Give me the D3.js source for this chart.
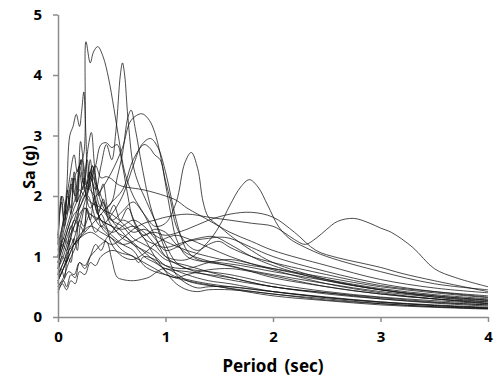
<!DOCTYPE html>
<html>
<head>
    <title>Response spectra</title>
    <script src="https://d3js.org/d3.v7.min.js"></script>
    <style>
        body { margin: 0; background: #fff; }
        .axis path, .axis line { stroke: #8c8c8c; stroke-width: 1.5; }
        .axis text { font-family: "Noto Sans", sans-serif; font-weight: bold; font-size: 15px; fill: #000; }
        .title { font-family: "Noto Sans", sans-serif; font-weight: bold; font-size: 17px; }
        .record { fill: none; stroke: #111; stroke-width: 0.75; }
    </style>
</head>
<body>
    <div id="chart"></div>

    <script>
        // 各記錄: [週期(sec), Sa(g)]
        const record01 = [[0,1.0],[0.05,1.5],[0.1,1.9],[0.15,2.3],[0.2,2.5],[0.24,2.7],[0.26,4.55],[0.3,4.2],[0.33,4.38],[0.37,4.47],[0.42,4.3],[0.47,3.95],[0.52,3.45],[0.57,2.9],[0.62,2.4],[0.7,2.0],[0.8,1.7],[0.9,1.35],[1.0,1.0],[1.2,0.8],[1.5,0.65],[2.0,0.5],[2.5,0.38],[3.0,0.3],[3.5,0.24],[4.0,0.2]];
        const record02 = [[0,1.2],[0.05,1.6],[0.08,2.1],[0.11,3.0],[0.14,3.15],[0.17,3.35],[0.2,3.15],[0.22,3.4],[0.24,3.72],[0.26,3.0],[0.28,2.3],[0.32,2.5],[0.36,2.2],[0.4,1.9],[0.5,1.6],[0.6,1.5],[0.7,1.3],[0.8,1.2],[0.9,1.1],[1.0,0.95],[1.2,0.85],[1.5,0.7],[2.0,0.5],[2.5,0.4],[3.0,0.32],[3.5,0.25],[4.0,0.2]];
        const record03 = [[0,0.8],[0.05,1.1],[0.1,1.4],[0.15,1.6],[0.2,1.9],[0.25,2.1],[0.3,2.3],[0.35,2.1],[0.4,2.5],[0.45,2.85],[0.5,2.6],[0.54,3.1],[0.58,4.0],[0.6,4.2],[0.62,4.0],[0.65,3.3],[0.7,2.5],[0.75,2.2],[0.8,2.0],[0.9,1.6],[1.0,1.2],[1.1,0.9],[1.2,0.8],[1.4,0.75],[1.6,0.7],[2.0,0.55],[2.5,0.42],[3.0,0.33],[3.5,0.27],[4.0,0.22]];
        const record04 = [[0,0.7],[0.05,0.9],[0.1,1.2],[0.15,1.5],[0.2,1.8],[0.25,2.0],[0.3,2.4],[0.35,2.2],[0.4,2.0],[0.45,1.8],[0.5,1.9],[0.55,2.3],[0.6,2.7],[0.65,3.3],[0.68,3.42],[0.72,3.1],[0.78,2.5],[0.85,1.9],[0.9,1.6],[1.0,1.1],[1.1,0.7],[1.2,0.55],[1.3,0.48],[1.4,0.5],[1.6,0.5],[2.0,0.42],[2.5,0.33],[3.0,0.25],[3.5,0.19],[4.0,0.15]];
        const record05 = [[0,0.9],[0.05,1.2],[0.1,1.5],[0.15,1.8],[0.2,2.0],[0.25,2.2],[0.3,2.1],[0.35,2.0],[0.4,2.1],[0.5,2.4],[0.6,2.8],[0.68,3.25],[0.78,3.36],[0.85,3.25],[0.9,3.05],[0.95,2.7],[1.0,2.2],[1.05,1.7],[1.1,1.3],[1.2,1.0],[1.4,0.9],[1.6,0.85],[1.8,0.75],[2.0,0.65],[2.5,0.5],[3.0,0.38],[3.5,0.3],[4.0,0.25]];
        const record06 = [[0,0.6],[0.05,0.8],[0.1,1.0],[0.15,1.2],[0.2,1.3],[0.25,1.5],[0.3,1.7],[0.35,1.6],[0.4,1.5],[0.5,1.7],[0.6,2.0],[0.7,2.5],[0.78,2.85],[0.86,2.95],[0.93,2.8],[1.0,2.4],[1.05,2.0],[1.1,1.6],[1.15,1.3],[1.2,1.1],[1.3,0.95],[1.5,0.9],[1.7,0.85],[2.0,0.75],[2.5,0.6],[3.0,0.45],[3.5,0.35],[4.0,0.28]];
        const record07 = [[0,0.5],[0.05,0.65],[0.1,0.9],[0.15,1.1],[0.2,1.3],[0.25,1.4],[0.3,1.5],[0.4,1.7],[0.5,1.9],[0.6,2.1],[0.7,2.6],[0.8,2.85],[0.85,2.8],[0.9,2.68],[0.95,2.6],[1.0,2.25],[1.05,1.9],[1.1,1.5],[1.2,1.2],[1.3,1.1],[1.4,1.2],[1.5,1.25],[1.6,1.15],[1.8,1.0],[2.0,0.9],[2.5,0.7],[3.0,0.52],[3.5,0.42],[4.0,0.35]];
        const record08 = [[0,0.9],[0.05,1.2],[0.1,1.5],[0.15,1.7],[0.2,1.8],[0.25,2.0],[0.3,1.9],[0.4,1.8],[0.5,1.6],[0.6,1.75],[0.7,1.9],[0.8,1.7],[0.9,1.5],[1.0,1.55],[1.1,1.9],[1.18,2.55],[1.24,2.72],[1.3,2.45],[1.35,1.9],[1.4,1.65],[1.5,1.5],[1.6,1.35],[1.8,1.1],[2.0,0.9],[2.5,0.62],[3.0,0.45],[3.5,0.35],[4.0,0.28]];
        const record09 = [[0,0.8],[0.05,1.0],[0.1,1.3],[0.15,1.5],[0.2,1.7],[0.25,1.8],[0.3,1.7],[0.4,1.6],[0.5,1.5],[0.6,1.45],[0.7,1.5],[0.8,1.4],[0.9,1.2],[1.0,1.0],[1.2,0.95],[1.4,1.25],[1.5,1.5],[1.6,1.85],[1.7,2.15],[1.78,2.27],[1.86,2.15],[1.95,1.85],[2.05,1.5],[2.15,1.3],[2.3,1.15],[2.5,1.0],[3.0,0.75],[3.5,0.55],[4.0,0.45]];
        const record10 = [[0,0.6],[0.05,0.8],[0.1,1.0],[0.15,1.2],[0.2,1.3],[0.3,1.4],[0.4,1.3],[0.5,1.2],[0.6,1.3],[0.7,1.45],[0.8,1.55],[0.9,1.6],[1.0,1.65],[1.2,1.7],[1.4,1.65],[1.6,1.6],[1.8,1.55],[2.0,1.5],[2.1,1.4],[2.2,1.28],[2.3,1.2],[2.4,1.3],[2.5,1.45],[2.6,1.58],[2.75,1.63],[2.9,1.55],[3.0,1.47],[3.1,1.4],[3.3,1.15],[3.5,0.8],[3.7,0.65],[4.0,0.5]];
        const record11 = [[0,0.7],[0.05,0.9],[0.1,1.1],[0.15,1.2],[0.2,1.35],[0.3,1.5],[0.4,1.4],[0.5,1.3],[0.6,1.2],[0.7,1.25],[0.8,1.35],[0.9,1.4],[1.0,1.35],[1.2,1.45],[1.4,1.6],[1.6,1.7],[1.8,1.73],[2.0,1.65],[2.2,1.4],[2.4,1.1],[2.6,0.98],[2.8,0.9],[3.0,0.82],[3.2,0.72],[3.5,0.6],[4.0,0.42]];
        const record12 = [[0,0.45],[0.05,0.6],[0.1,0.75],[0.15,0.7],[0.2,0.9],[0.25,0.85],[0.3,1.0],[0.35,1.1],[0.4,1.2],[0.45,1.25],[0.5,0.95],[0.55,0.66],[0.6,0.62],[0.7,0.6],[0.8,0.63],[0.85,0.66],[0.95,0.78],[1.0,0.8],[1.1,0.72],[1.2,0.6],[1.3,0.55],[1.5,0.5],[1.7,0.45],[2.0,0.38],[2.5,0.3],[3.0,0.22],[3.5,0.17],[4.0,0.14]];
        const record13 = [[0,1.3],[0.04,2.0],[0.08,1.7],[0.12,2.2],[0.16,2.0],[0.2,2.5],[0.24,2.2],[0.28,2.8],[0.31,3.05],[0.34,2.5],[0.38,2.0],[0.42,2.2],[0.46,1.8],[0.5,1.6],[0.6,1.4],[0.7,1.2],[0.8,1.1],[0.9,1.0],[1.0,0.85],[1.2,0.7],[1.4,0.6],[1.6,0.55],[2.0,0.42],[2.5,0.32],[3.0,0.25],[3.5,0.2],[4.0,0.16]];
        const record14 = [[0,1.0],[0.05,1.3],[0.1,1.6],[0.15,1.9],[0.2,2.1],[0.25,2.0],[0.3,2.3],[0.35,2.5],[0.4,2.3],[0.45,2.32],[0.5,2.28],[0.55,2.2],[0.6,2.16],[0.8,2.1],[1.0,2.0],[1.1,1.93],[1.2,1.8],[1.3,1.7],[1.4,1.6],[1.6,1.4],[1.8,1.25],[2.0,1.1],[2.5,0.85],[3.0,0.62],[3.5,0.48],[4.0,0.4]];
        const record15 = [[0,1.1],[0.05,1.6],[0.1,2.2],[0.15,2.68],[0.18,2.4],[0.22,2.6],[0.26,2.0],[0.3,1.8],[0.35,1.9],[0.4,1.5],[0.5,1.3],[0.6,1.1],[0.7,1.0],[0.8,0.9],[0.9,0.8],[1.0,0.7],[1.2,0.6],[1.5,0.5],[2.0,0.35],[2.5,0.27],[3.0,0.2],[3.5,0.16],[4.0,0.13]];
        const record16 = [[0,0.6],[0.05,0.8],[0.1,1.1],[0.15,1.3],[0.2,1.6],[0.25,1.9],[0.3,2.2],[0.35,2.5],[0.4,2.85],[0.45,2.88],[0.5,2.8],[0.55,2.85],[0.6,2.5],[0.65,2.0],[0.7,1.6],[0.8,1.3],[0.9,1.2],[1.0,1.15],[1.2,1.25],[1.4,1.3],[1.5,1.32],[1.6,1.3],[1.8,1.15],[2.0,1.0],[2.5,0.75],[3.0,0.55],[3.5,0.42],[4.0,0.33]];
        const record17 = [[0,0.9],[0.05,1.4],[0.1,1.8],[0.13,2.3],[0.17,1.9],[0.2,2.4],[0.23,2.1],[0.27,2.6],[0.3,2.2],[0.35,1.8],[0.4,1.6],[0.5,1.4],[0.6,1.5],[0.7,1.6],[0.8,1.5],[0.9,1.3],[1.0,1.1],[1.1,1.15],[1.2,1.25],[1.3,1.3],[1.45,1.33],[1.6,1.2],[1.8,1.0],[2.0,0.85],[2.5,0.6],[3.0,0.45],[3.5,0.33],[4.0,0.25]];
        const record18 = [[0,0.5],[0.05,0.6],[0.08,0.5],[0.12,0.7],[0.16,0.65],[0.2,0.9],[0.25,0.8],[0.3,1.0],[0.35,1.2],[0.4,1.1],[0.45,1.3],[0.5,1.4],[0.6,1.6],[0.7,1.5],[0.8,1.3],[0.9,1.0],[1.0,0.75],[1.1,0.55],[1.2,0.45],[1.3,0.42],[1.4,0.45],[1.6,0.45],[1.8,0.42],[2.0,0.38],[2.5,0.28],[3.0,0.22],[3.5,0.17],[4.0,0.14]];
        const record19 = [[0,0.4],[0.04,0.55],[0.08,0.45],[0.12,0.6],[0.16,0.55],[0.2,0.75],[0.25,0.7],[0.3,0.9],[0.35,0.85],[0.4,1.0],[0.5,1.1],[0.6,1.05],[0.7,1.0],[0.75,0.9],[0.8,1.0],[0.9,0.95],[1.0,0.85],[1.2,0.8],[1.4,0.9],[1.6,0.95],[1.8,0.88],[2.0,0.8],[2.5,0.62],[3.0,0.47],[3.5,0.37],[4.0,0.3]];
        const record20 = [[0,1.2],[0.03,2.0],[0.06,1.6],[0.09,2.1],[0.12,1.7],[0.15,2.3],[0.18,1.9],[0.21,2.6],[0.24,2.2],[0.27,2.0],[0.3,2.4],[0.35,1.9],[0.4,1.6],[0.5,1.5],[0.6,1.3],[0.7,1.2],[0.8,1.0],[0.9,0.9],[1.0,0.8],[1.2,0.75],[1.4,0.7],[1.6,0.65],[2.0,0.5],[2.5,0.4],[3.0,0.3],[3.5,0.23],[4.0,0.18]];
        const record21 = [[0,0.7],[0.04,1.0],[0.08,0.9],[0.12,1.3],[0.16,1.2],[0.2,1.6],[0.24,1.5],[0.28,2.0],[0.32,1.8],[0.36,1.6],[0.4,1.7],[0.45,1.5],[0.5,1.2],[0.6,1.0],[0.7,0.95],[0.8,1.05],[0.9,1.2],[1.0,1.3],[1.1,1.35],[1.2,1.3],[1.4,1.15],[1.6,1.0],[1.8,0.88],[2.0,0.78],[2.5,0.55],[3.0,0.4],[3.5,0.3],[4.0,0.22]];
        const record22 = [[0,1.0],[0.05,1.3],[0.1,1.2],[0.15,1.6],[0.2,1.5],[0.25,1.8],[0.3,1.6],[0.35,1.4],[0.4,1.5],[0.5,1.35],[0.6,1.2],[0.7,1.1],[0.8,0.85],[0.9,0.75],[1.0,0.7],[1.1,0.65],[1.2,0.7],[1.4,0.78],[1.6,0.8],[1.8,0.75],[2.0,0.68],[2.5,0.5],[3.0,0.38],[3.5,0.3],[4.0,0.23]];
        const record23 = [[0,0.8],[0.04,1.2],[0.08,1.1],[0.12,1.5],[0.16,1.4],[0.2,1.9],[0.24,2.3],[0.28,2.1],[0.32,2.5],[0.36,2.0],[0.4,1.8],[0.5,1.7],[0.6,1.55],[0.7,1.4],[0.8,1.45],[0.9,1.35],[1.0,1.25],[1.2,1.1],[1.4,1.0],[1.6,0.92],[1.8,0.85],[2.0,0.8],[2.5,0.65],[3.0,0.5],[3.5,0.4],[4.0,0.32]];
        const record24 = [[0,1.35],[0.03,1.9],[0.06,1.5],[0.09,2.0],[0.12,1.8],[0.15,2.4],[0.18,2.1],[0.21,2.9],[0.24,2.5],[0.27,2.2],[0.3,2.6],[0.33,2.1],[0.37,1.7],[0.42,1.9],[0.47,1.6],[0.55,1.4],[0.65,1.3],[0.75,1.15],[0.85,1.0],[0.95,0.85],[1.05,0.7],[1.2,0.62],[1.4,0.55],[1.7,0.48],[2.0,0.42],[2.5,0.32],[3.0,0.24],[3.5,0.19],[4.0,0.15]];
        const record25 = [[0,0.55],[0.03,0.8],[0.06,0.65],[0.09,1.0],[0.12,0.9],[0.15,1.3],[0.18,1.1],[0.21,1.5],[0.24,1.4],[0.27,1.8],[0.3,1.6],[0.34,2.0],[0.38,1.75],[0.42,1.95],[0.47,1.7],[0.52,1.85],[0.58,1.6],[0.65,1.8],[0.72,1.55],[0.8,1.35],[0.9,1.45],[1.0,1.4],[1.1,1.2],[1.2,1.05],[1.35,0.95],[1.5,0.88],[1.7,0.8],[2.0,0.7],[2.5,0.55],[3.0,0.42],[3.5,0.33],[4.0,0.27]];

        const records = [record01, record02, record03, record04, record05, record06, record07, record08,
            record09, record10, record11, record12, record13, record14, record15, record16,
            record17, record18, record19, record20, record21, record22, record23, record24, record25];

        const xTicks = [0, 1, 2, 3, 4];
        const yTicks = [0, 1, 2, 3, 4, 5];

        const width = 500, height = 389;
        const margin = { left: 58, right: 12, top: 14.5, bottom: 72 };

        const svg = d3.select("#chart").append("svg")
            .attr("width", width)
            .attr("height", height);

        const x = d3.scaleLinear().domain([0, 4]).range([margin.left, width - margin.right]);
        const y = d3.scaleLinear().domain([0, 5]).range([height - margin.bottom, margin.top]);

        // 曲線
        const line = d3.line()
            .x(d => x(d[0]))
            .y(d => y(d[1]))
            .curve(d3.curveCatmullRom.alpha(0.5));

        svg.selectAll(".record")
            .data(records)
            .enter()
            .append("path")
            .attr("class", "record")
            .attr("d", line);

        // 軸
        svg.append("g")
            .attr("class", "axis")
            .attr("transform", `translate(0,${y(0)})`)
            .call(d3.axisBottom(x).tickValues(xTicks).tickFormat(d3.format("d"))
                .tickSize(5).tickSizeOuter(0).tickPadding(9));

        svg.append("g")
            .attr("class", "axis")
            .attr("transform", `translate(${x(0)},0)`)
            .call(d3.axisLeft(y).tickValues(yTicks).tickFormat(d3.format("d"))
                .tickSize(5).tickSizeOuter(0).tickPadding(11));

        svg.append("text")
            .attr("class", "title")
            .attr("x", x(2))
            .attr("y", 372)
            .attr("text-anchor", "middle")
            .style("word-spacing", "3px")
            .text("Period (sec)");

        svg.append("text")
            .attr("class", "title")
            .attr("transform", `translate(35,167) rotate(-90)`)
            .attr("text-anchor", "middle")
            .style("font-size", "16px")
            .text("Sa (g)");
    </script>
</body>
</html>
